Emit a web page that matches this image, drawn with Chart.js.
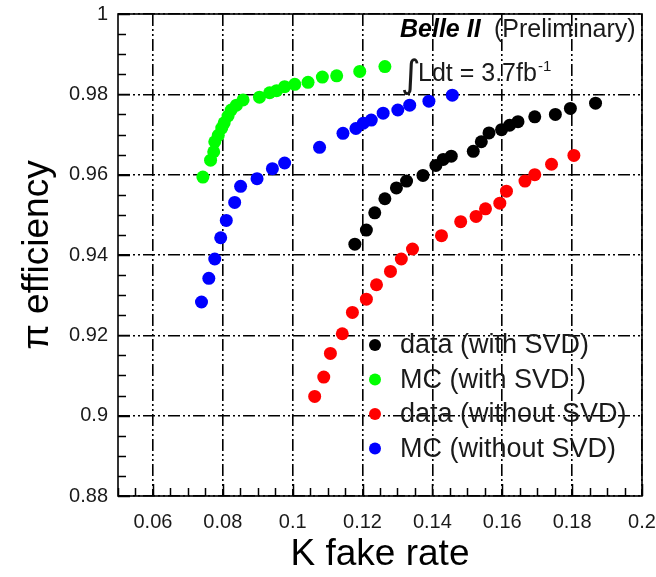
<!DOCTYPE html>
<html><head><meta charset="utf-8">
<script src="https://cdn.jsdelivr.net/npm/chart.js@4/dist/chart.umd.min.js"></script>
<style>html,body{margin:0;padding:0;background:#fff;overflow:hidden;}</style>
</head><body>
<canvas id="c" width="656" height="577" style="width:656px;height:577px;display:block"></canvas>
<script>
const seriesLabels = ['data (with SVD)', 'MC (with SVD )', 'data (without SVD)', 'MC (without SVD)'];
const seriesColors = ['#000000', '#00ff00', '#ff0000', '#0000ff'];

const dataWithSvdX = [0.1178,0.1211,0.1235,0.1264,0.1297,0.1326,0.1373,0.1410,0.1431,0.1454,0.1517,0.1540,0.1562,0.1598,0.1621,0.1645,0.1693,0.1752,0.1795,0.1867];
const dataWithSvdY = [0.9427,0.9462,0.9505,0.9540,0.9567,0.9584,0.9598,0.9623,0.9638,0.9646,0.9658,0.9682,0.9704,0.9712,0.9723,0.9732,0.9744,0.9750,0.9765,0.9778];

const mcWithSvdX = [0.0743,0.0765,0.0774,0.0777,0.0787,0.0797,0.0804,0.0815,0.0824,0.0839,0.0858,0.0905,0.0934,0.0954,0.0977,0.1006,0.1044,0.1085,0.1126,0.1192,0.1264];
const mcWithSvdY = [0.9594,0.9636,0.9657,0.9682,0.9698,0.9716,0.9729,0.9746,0.9761,0.9773,0.9786,0.9793,0.9804,0.9809,0.9819,0.9825,0.9830,0.9843,0.9846,0.9857,0.9869];

const dataNoSvdX = [0.1063,0.1089,0.1108,0.1142,0.1171,0.1211,0.1240,0.1280,0.1311,0.1343,0.1426,0.1481,0.1525,0.1552,0.1593,0.1612,0.1665,0.1693,0.1741,0.1805];
const dataNoSvdY = [0.9048,0.9096,0.9155,0.9204,0.9257,0.9290,0.9326,0.9359,0.9390,0.9415,0.9448,0.9483,0.9496,0.9515,0.9529,0.9559,0.9584,0.9600,0.9626,0.9648];

const mcNoSvdX = [0.0739,0.0760,0.0777,0.0794,0.0810,0.0834,0.0851,0.0898,0.0942,0.0977,0.1077,0.1144,0.1181,0.1202,0.1225,0.1259,0.1301,0.1335,0.1390,0.1457];
const mcNoSvdY = [0.9283,0.9342,0.9390,0.9443,0.9486,0.9531,0.9571,0.9590,0.9615,0.9629,0.9668,0.9703,0.9715,0.9728,0.9736,0.9753,0.9761,0.9773,0.9783,0.9798];

const xTickLabels = ['0.06','0.08','0.1','0.12','0.14','0.16','0.18','0.2'];
const yTickLabels = ['0.88','0.9','0.92','0.94','0.96','0.98','1'];

const FONT = '"Liberation Sans", Arial, sans-serif';
const pts = (xs, ys) => xs.map((x, i) => ({x: x, y: ys[i]}));
const fmt = v => String(Math.round(v * 1000) / 1000);
const isMajor = v => Math.abs(Math.round(v * 1000) % 20) === 0;

const allX = [dataWithSvdX, mcWithSvdX, dataNoSvdX, mcNoSvdX];
const allY = [dataWithSvdY, mcWithSvdY, dataNoSvdY, mcNoSvdY];

const datasets = seriesLabels.map((lab, i) => ({
  label: lab,
  data: pts(allX[i], allY[i]),
  backgroundColor: seriesColors[i],
  borderColor: seriesColors[i],
  borderWidth: 0,
  pointRadius: 6.5,
  pointHoverRadius: 6.5,
  showLine: false
}));

const framePlugin = {
  id: 'frame',
  afterDraw(chart) {
    const {ctx, chartArea: {left, right, top, bottom}, scales: {x, y}} = chart;
    ctx.save();
    ctx.strokeStyle = '#000';
    ctx.lineWidth = 1.5;
    ctx.beginPath();
    x.ticks.forEach(t => {
      const px = Math.round(x.getPixelForValue(t.value)) + 0.5;
      const len = isMajor(t.value) ? 12 : 8;
      ctx.moveTo(px, bottom); ctx.lineTo(px, bottom - len);
    });
    y.ticks.forEach(t => {
      const py = Math.round(y.getPixelForValue(t.value)) + 0.5;
      const len = isMajor(t.value) ? 12 : 8;
      ctx.moveTo(left, py); ctx.lineTo(left + len, py);
    });
    ctx.stroke();
    ctx.lineWidth = 1.6;
    ctx.strokeRect(left, top, right - left, bottom - top);

    // legend (inside plot)
    ctx.textBaseline = 'middle';
    ctx.textAlign = 'left';
    ctx.font = '27px ' + FONT;
    chart.data.datasets.forEach((ds, i) => {
      const cy = 345 + i * 34.5;
      ctx.fillStyle = ds.backgroundColor;
      ctx.beginPath(); ctx.arc(375, cy, 6, 0, Math.PI * 2); ctx.fill();
      ctx.fillStyle = '#1a1a1a';
      ctx.fillText(ds.label, 400, cy + 1);
    });

    // annotation
    ctx.textBaseline = 'alphabetic';
    ctx.fillStyle = '#000';
    ctx.font = 'italic bold 25px ' + FONT;
    ctx.fillText('Belle II', 400, 37);
    ctx.font = '25px ' + FONT;
    ctx.fillStyle = '#1a1a1a';
    ctx.fillText('(Preliminary)', 494, 37);
    ctx.font = '38px "DejaVu Sans", sans-serif';
    ctx.fillText('\u222B', 401, 87);
    ctx.font = '25px ' + FONT;
    ctx.fillText('Ldt = 3.7fb', 418, 81);
    ctx.font = '15px ' + FONT;
    ctx.fillText('-1', 538, 71);
    ctx.restore();
  }
};

const zeroPad = s => { s.paddingTop = 0; s.paddingBottom = 0; s.paddingLeft = 0; s.paddingRight = 0; };

new Chart(document.getElementById('c'), {
  type: 'scatter',
  data: {datasets: datasets},
  options: {
    responsive: false,
    animation: false,
    devicePixelRatio: 1,
    layout: {padding: {top: 14, right: 14, left: 0, bottom: 0}},
    plugins: {legend: {display: false}, tooltip: {enabled: false}},
    scales: {
      x: {
        type: 'linear', min: 0.05, max: 0.2,
        afterFit: s => { s.height = 81; zeroPad(s); },
        ticks: {
          stepSize: 0.005, autoSkip: false, maxRotation: 0, padding: 14,
          color: '#1a1a1a', font: {family: FONT, size: 20},
          callback: v => { const l = fmt(v); return (isMajor(v) && xTickLabels.includes(l)) ? l : ''; }
        },
        grid: {
          drawTicks: false, lineWidth: 1.6,
          color: c => (c.tick && isMajor(c.tick.value)) ? '#000' : 'rgba(0,0,0,0)'
        },
        border: {display: false, dash: [12, 3, 2, 3, 2, 3]},
        title: {display: true, text: 'K fake rate', color: '#000', font: {family: FONT, size: 37}, padding: {top: 0, bottom: 0}}
      },
      y: {
        type: 'linear', min: 0.88, max: 1,
        afterFit: s => { s.width = 118; zeroPad(s); },
        ticks: {
          stepSize: 0.005, autoSkip: false, padding: 10,
          color: '#1a1a1a', font: {family: FONT, size: 20},
          callback: v => { const l = fmt(v); return (isMajor(v) && yTickLabels.includes(l)) ? l : ''; }
        },
        grid: {
          drawTicks: false, lineWidth: 1.6,
          color: c => (c.tick && isMajor(c.tick.value)) ? '#000' : 'rgba(0,0,0,0)'
        },
        border: {display: false, dash: [12, 3, 2, 3, 2, 3]},
        title: {display: true, text: 'π efficiency', color: '#000', font: {family: FONT, size: 37}, padding: {top: 16, bottom: 0}}
      }
    }
  },
  plugins: [framePlugin]
});
</script>
</body></html>
